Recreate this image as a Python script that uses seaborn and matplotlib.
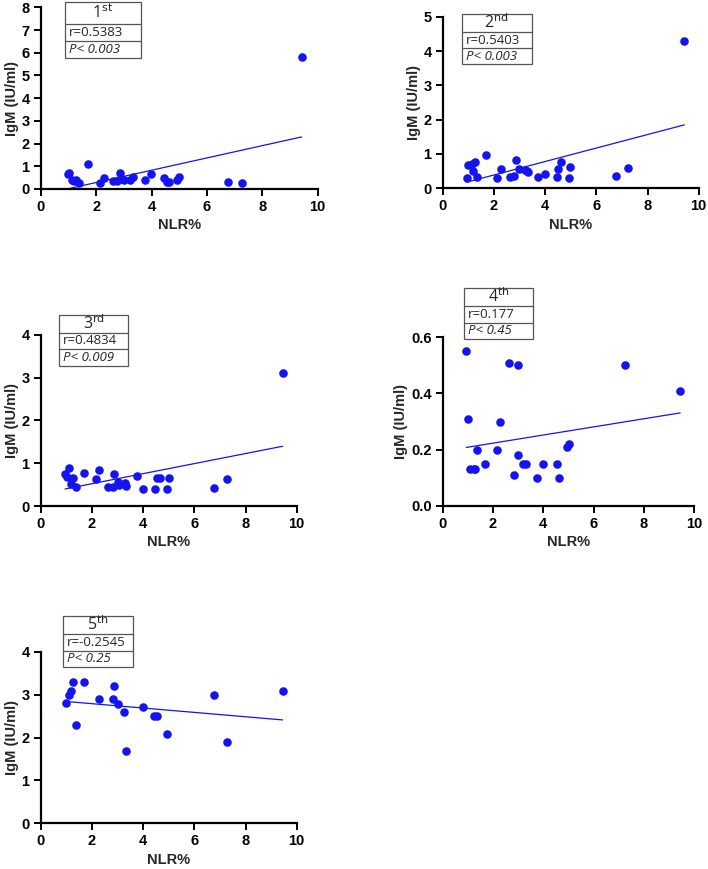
import matplotlib

matplotlib.use("Agg")
import matplotlib.pyplot as plt
import seaborn as sns
from matplotlib.lines import Line2D
from matplotlib.patches import Rectangle

# ---- data (NLR% vs IgM per dose) ----
nlr_1 = [0.97, 1.03, 1.12, 1.20, 1.28, 1.40, 1.70, 2.14, 2.27, 2.62, 2.75, 2.86, 2.95,
         3.02, 3.22, 3.34, 3.75, 3.98, 4.45, 4.55, 4.64, 4.93, 5.00, 6.75, 7.26, 9.42]
igm_1 = [0.66, 0.69, 0.40, 0.35, 0.40, 0.28, 1.10, 0.28, 0.50, 0.37, 0.37, 0.69, 0.42,
         0.40, 0.40, 0.54, 0.40, 0.65, 0.47, 0.32, 0.32, 0.40, 0.54, 0.29, 0.28, 5.79]

nlr_2 = [0.94, 0.99, 1.15, 1.17, 1.28, 1.35, 1.69, 2.14, 2.27, 2.63, 2.80, 2.85, 2.98,
         3.22, 3.28, 3.35, 3.74, 4.00, 4.45, 4.52, 4.62, 4.92, 4.99, 6.76, 7.24, 9.44]
igm_2 = [0.29, 0.69, 0.70, 0.50, 0.76, 0.32, 0.98, 0.30, 0.57, 0.34, 0.37, 0.83, 0.55,
         0.53, 0.51, 0.48, 0.34, 0.42, 0.32, 0.57, 0.76, 0.30, 0.61, 0.36, 0.59, 4.30]

nlr_3 = [0.95, 1.02, 1.12, 1.18, 1.28, 1.38, 1.71, 2.16, 2.28, 2.62, 2.81, 2.86, 3.00,
         3.06, 3.29, 3.33, 3.75, 4.01, 4.47, 4.53, 4.66, 4.95, 5.01, 6.77, 7.27, 9.45]
igm_3 = [0.75, 0.67, 0.89, 0.51, 0.65, 0.45, 0.77, 0.64, 0.85, 0.45, 0.45, 0.75, 0.57,
         0.49, 0.53, 0.47, 0.70, 0.40, 0.40, 0.65, 0.65, 0.39, 0.65, 0.41, 0.63, 3.10]

nlr_4 = [0.94, 1.01, 1.09, 1.25, 1.30, 1.36, 1.70, 2.16, 2.26, 2.62, 2.82, 2.99, 2.99,
         3.20, 3.31, 3.74, 3.99, 4.53, 4.64, 4.93, 5.00, 7.25, 9.44]
igm_4 = [0.55, 0.31, 0.13, 0.13, 0.13, 0.20, 0.15, 0.20, 0.30, 0.51, 0.11, 0.50, 0.18,
         0.15, 0.15, 0.10, 0.15, 0.15, 0.10, 0.21, 0.22, 0.50, 0.41]

nlr_5 = [1.00, 1.11, 1.18, 1.28, 1.38, 1.71, 2.28, 2.81, 2.86, 3.00, 3.26, 3.32, 4.01,
         4.44, 4.53, 4.95, 6.76, 7.27, 9.45]
igm_5 = [2.80, 2.99, 3.09, 3.29, 2.29, 3.29, 2.89, 2.89, 3.19, 2.79, 2.59, 1.69, 2.70,
         2.49, 2.49, 2.09, 2.99, 1.89, 3.09]

titles = ["1$^{\\mathrm{st}}$", "2$^{\\mathrm{nd}}$", "3$^{\\mathrm{rd}}$",
          "4$^{\\mathrm{th}}$", "5$^{\\mathrm{th}}$"]
r_labels = ["r=0.5383", "r=0.5403", "r=0.4834", "r=0.177", "r=-0.2545"]
p_labels = ["P< 0.003", "P< 0.003", "P< 0.009", "P< 0.45", "P< 0.25"]
y_max = [8, 5, 4, 0.6, 4]
y_step = [1, 1, 1, 0.2, 1]

W, H = 708, 869
# axes rectangles in pixels: left, top, right, bottom
AX_PX = [
    (40.7, 7.3, 317.7, 189.0),
    (442.7, 16.7, 698.7, 188.3),
    (40.7, 334.7, 296.7, 506.0),
    (442.7, 337.3, 694.3, 505.7),
    (40.7, 651.7, 296.7, 823.3),
]
# annotation boxes in pixels: left, top, right, bottom, split1, split2
BOX_PX = [
    (65.0, 2.0, 140.7, 58.3, 24.0, 40.7),
    (461.7, 14.3, 531.7, 64.0, 31.7, 48.3),
    (59.3, 315.0, 128.3, 365.7, 332.7, 349.0),
    (464.3, 288.3, 533.3, 339.3, 306.0, 322.7),
    (63.3, 616.0, 133.3, 667.3, 634.0, 650.7),
]

sns.set_style("ticks")
plt.rcParams["font.family"] = ["Liberation Sans", "DejaVu Sans"]

BLUE = "#1414f0"

fig = plt.figure(figsize=(W / 100, H / 100), dpi=100)

data = [(nlr_1, igm_1), (nlr_2, igm_2), (nlr_3, igm_3), (nlr_4, igm_4), (nlr_5, igm_5)]


def fx(px):
    return px / W


def fy(py):
    return 1 - py / H


def draw_box(box, title, r_txt, p_txt):
    l, t, r, b, s1, s2 = box
    edge = "#555555"
    fig.patches.append(Rectangle((fx(l), fy(b)), fx(r) - fx(l), fy(t) - fy(b),
                                 transform=fig.transFigure, facecolor="white",
                                 edgecolor=edge, linewidth=0.9, zorder=5))
    for s in (s1, s2):
        fig.lines.append(Line2D([fx(l), fx(r)], [fy(s), fy(s)], transform=fig.transFigure,
                                color=edge, linewidth=0.9, zorder=6))
    fig.text(fx((l + r) / 2), fy((t + s1) / 2), title, ha="center", va="center",
             fontsize=11.5, family="Open Sans", zorder=7)
    fig.text(fx(l + 4), fy((s1 + s2) / 2), r_txt, ha="left", va="center",
             fontsize=9.5, family="Open Sans", zorder=7)
    fig.text(fx(l + 4), fy((s2 + b) / 2), p_txt, ha="left", va="center",
             fontsize=9.5, family="Open Sans", style="italic", zorder=7)


for i, (x, y) in enumerate(data):
    l, t, r, b = AX_PX[i]
    ax = fig.add_axes([fx(l), fy(b), fx(r) - fx(l), fy(t) - fy(b)])
    sns.regplot(x=x, y=y, ax=ax, ci=None, color=BLUE,
                scatter_kws={"s": 38, "alpha": 1, "linewidths": 0},
                line_kws={"linewidth": 0.9})
    ax.set_xlim(0, 10)
    ax.set_ylim(0, y_max[i])
    ax.set_xticks(range(0, 11, 2))
    n = int(round(y_max[i] / y_step[i]))
    yt = [round(k * y_step[i], 1) for k in range(n + 1)]
    ax.set_yticks(yt)
    if y_step[i] < 1:
        ax.set_yticklabels([f"{v:.1f}" for v in yt])
    for side in ("top", "right"):
        ax.spines[side].set_visible(False)
    for side in ("left", "bottom"):
        ax.spines[side].set_linewidth(1.6)
        ax.spines[side].set_color("black")
    ax.tick_params(axis="both", direction="out", length=5, width=1.4, labelsize=10.5,
                   colors="black", pad=3)
    for lab in ax.get_xticklabels() + ax.get_yticklabels():
        lab.set_fontweight("bold")
    ax.set_xlabel("NLR%", fontsize=10.5, fontweight="bold", labelpad=3)
    ax.set_ylabel("IgM (IU/ml)", fontsize=10.5, fontweight="bold", labelpad=2)
    draw_box(BOX_PX[i], titles[i], r_labels[i], p_labels[i])

fig.savefig("out.png", dpi=100, facecolor="white")
